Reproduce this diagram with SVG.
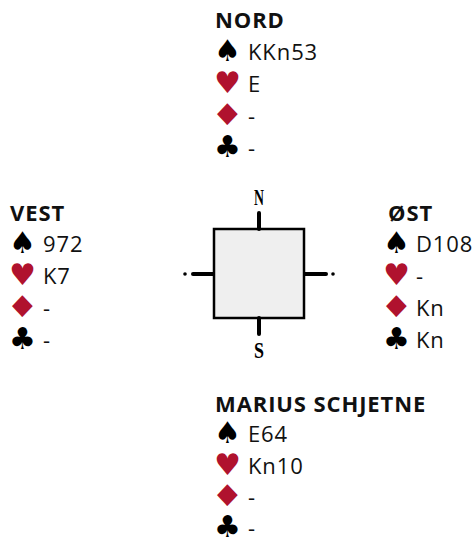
<svg xmlns="http://www.w3.org/2000/svg" width="474" height="539" viewBox="0 0 474 539">
<style>
.h{font-family:"Open Sans","DejaVu Sans",sans-serif;font-weight:bold;font-size:22px;letter-spacing:0.9px;fill:#111}
.t{font-family:"Open Sans","DejaVu Sans",sans-serif;font-size:22px;letter-spacing:0.9px;fill:#111}
.s{font-family:"DejaVu Sans",sans-serif;font-size:30px}
.d{font-family:"DejaVu Sans",sans-serif;font-size:30px}
.b{fill:#000}
.r{fill:#b0122e}
.c{font-family:"Liberation Serif",serif;font-weight:bold;font-size:24px;fill:#000}
.tick{stroke:#000;stroke-width:4;stroke-linecap:round}
</style>
<rect width="474" height="539" fill="#fff"/>
<g id="compass">
<rect x="214" y="229" width="90" height="89" fill="#efefef" stroke="#000" stroke-width="2.5"/>
<line class="tick" x1="259" y1="213" x2="259" y2="229"/>
<line class="tick" x1="259" y1="318" x2="259" y2="334"/>
<line class="tick" x1="193" y1="274" x2="213" y2="274"/>
<line class="tick" x1="305" y1="274" x2="326" y2="274"/>
<circle cx="185" cy="274" r="1.8"/>
<circle cx="333" cy="274" r="1.8"/>
<text class="c" x="259" y="205" text-anchor="middle" textLength="10" lengthAdjust="spacingAndGlyphs">N</text>
<text class="c" x="259" y="358" text-anchor="middle" textLength="10" lengthAdjust="spacingAndGlyphs">S</text>
</g>
<g id="north">
<text class="h" x="215" y="28">NORD</text>
<text class="s b" x="214" y="61">♠</text><text class="t" x="248" y="60">KKn53</text>
<text class="s r" x="214" y="93">♥</text><text class="t" x="248" y="92">E</text>
<text class="d r" transform="translate(211,125) scale(1.22,1)">♦</text><text class="t" x="248" y="124">-</text>
<text class="s b" x="214" y="157">♣</text><text class="t" x="248" y="156">-</text>
</g>
<g id="west">
<text class="h" x="10" y="221">VEST</text>
<text class="s b" x="9" y="253">♠</text><text class="t" x="43" y="252">972</text>
<text class="s r" x="9" y="285">♥</text><text class="t" x="43" y="284">K7</text>
<text class="d r" transform="translate(6,317) scale(1.22,1)">♦</text><text class="t" x="43" y="316">-</text>
<text class="s b" x="9" y="349">♣</text><text class="t" x="43" y="348">-</text>
</g>
<g id="east">
<text class="h" x="388" y="221">ØST</text>
<text class="s b" x="383" y="253">♠</text><text class="t" x="416" y="252">D108</text>
<text class="s r" x="383" y="285">♥</text><text class="t" x="416" y="284">-</text>
<text class="d r" transform="translate(380,317) scale(1.22,1)">♦</text><text class="t" x="416" y="316">Kn</text>
<text class="s b" x="383" y="349">♣</text><text class="t" x="416" y="348">Kn</text>
</g>
<g id="south">
<text class="h" x="215" y="412">MARIUS SCHJETNE</text>
<text class="s b" x="214" y="443">♠</text><text class="t" x="248" y="442">E64</text>
<text class="s r" x="214" y="475">♥</text><text class="t" x="248" y="474">Kn10</text>
<text class="d r" transform="translate(211,506) scale(1.22,1)">♦</text><text class="t" x="248" y="505">-</text>
<text class="s b" x="214" y="537">♣</text><text class="t" x="248" y="536">-</text>
</g>
<g id="connectors"></g>
</svg>
